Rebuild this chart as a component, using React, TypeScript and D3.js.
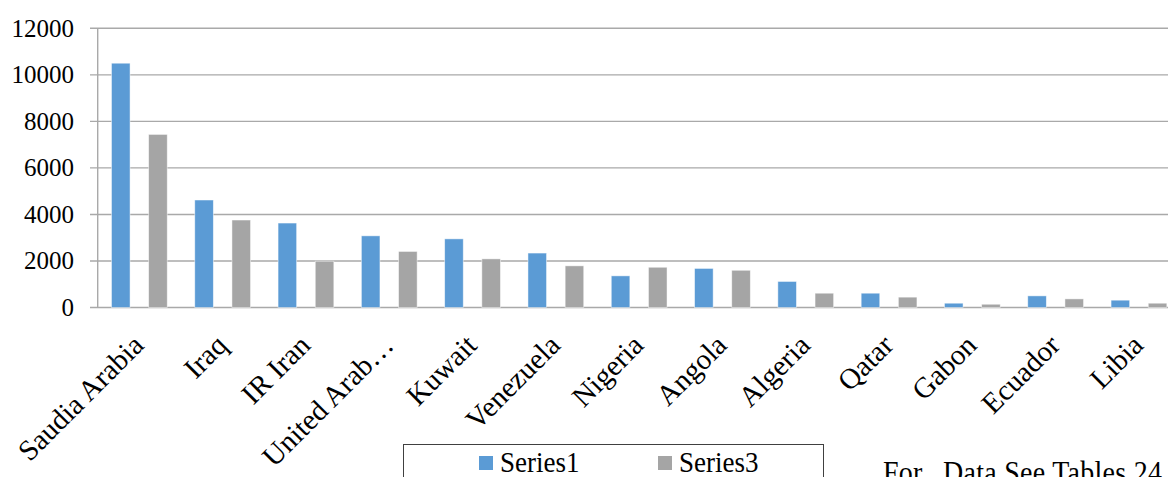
import React from "react";
import * as d3 from "d3";

const categories = [
  "Saudia Arabia", "Iraq", "IR Iran", "United Arab…", "Kuwait", "Venezuela",
  "Nigeria", "Angola", "Algeria", "Qatar", "Gabon", "Ecuador", "Libia",
];
const series1 = [10500, 4620, 3630, 3080, 2950, 2340, 1360, 1680, 1120, 615, 185, 500, 315];
const series3 = [7440, 3760, 1990, 2410, 2090, 1790, 1730, 1600, 615, 445, 140, 370, 185];
const seriesNames = ["Series1", "Series3"];
const seriesColors = ["#5B9BD5", "#A5A5A5"];
const yTicks = [0, 2000, 4000, 6000, 8000, 10000, 12000];

const W = 1168;
const H = 477;
const left = 97.7;
const step = 83.3;
const top = 28.3;
const bottom = 307.5;
const serif = "'Liberation Serif', 'Times New Roman', serif";

export default function App() {
  const x = d3
    .scaleBand<string>()
    .domain(categories)
    .range([left, left + step * categories.length])
    .paddingInner(0)
    .paddingOuter(0);
  const xs = d3
    .scaleBand<string>()
    .domain(seriesNames)
    .range([0, x.bandwidth()])
    .paddingInner(0.5)
    .paddingOuter(0.37);
  const y = d3.scaleLinear().domain([0, 12000]).range([bottom, top]);
  const data = [series1, series3];

  return (
    <svg
      width={W}
      height={H}
      style={{ position: "absolute", left: 0, top: 0, background: "#fff" }}
    >
      {/* gridlines */}
      {yTicks.map((t) => (
        <line
          key={t}
          x1={90}
          x2={W}
          y1={y(t)}
          y2={y(t)}
          stroke="#A9A9A9"
          strokeWidth={1.4}
        />
      ))}
      <line x1={left} x2={left} y1={top} y2={bottom} stroke="#A9A9A9" strokeWidth={1.4} />
      {yTicks.map((t) => (
        <text
          key={"l" + t}
          x={74}
          y={y(t)}
          dy="0.34em"
          textAnchor="end"
          fontSize={25}
          fill="#000"
          style={{ fontFamily: serif }}
        >
          {t}
        </text>
      ))}
      {/* bars */}
      {data.map((vals, si) =>
        vals.map((v, i) => (
          <rect
            key={si + "-" + i}
            x={(x(categories[i]) as number) + (xs(seriesNames[si]) as number)}
            y={y(v)}
            width={xs.bandwidth()}
            height={bottom - y(v)}
            fill={seriesColors[si]}
            stroke="#ffffff"
            strokeOpacity={0.6}
            strokeWidth={0.8}
          />
        ))
      )}
      {/* category labels */}
      {categories.map((c) => {
        const cx = (x(c) as number) + x.bandwidth() / 2 + 6;
        const cy = 347;
        return (
          <text
            key={"c" + c}
            transform={`translate(${cx},${cy}) rotate(-45)`}
            textAnchor="end"
            fontSize={29}
            fill="#000"
            style={{ fontFamily: serif }}
          >
            {c}
          </text>
        );
      })}
      {/* legend */}
      <rect x={403.5} y={444.5} width={420} height={60} fill="#fff" stroke="#404040" strokeWidth={1} />
      {seriesNames.map((s, i) => {
        const lx = [479, 658][i];
        return (
          <g key={"lg" + s}>
            <rect x={lx} y={456} width={14} height={14} fill={seriesColors[i]} />
            <text
              transform={`translate(${lx + 21},471.5) scale(1,1.12)`}
              fontSize={27}
              fill="#000"
              style={{ fontFamily: serif }}
            >
              {s}
            </text>
          </g>
        );
      })}
      <text
        transform="translate(883,483) scale(1,1.1)"
        fontSize={28}
        fill="#000"
        textLength={279}
        lengthAdjust="spacing"
        style={{ fontFamily: serif, whiteSpace: "pre" }}
      >
        {"For.  Data See Tables 24"}
      </text>
    </svg>
  );
}
